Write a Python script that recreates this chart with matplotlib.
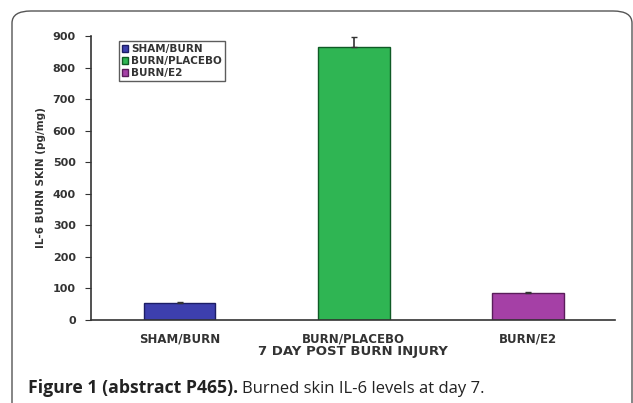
import matplotlib
matplotlib.use("Agg")
import matplotlib.pyplot as plt
from matplotlib.patches import FancyBboxPatch

# data
groups = ["SHAM/BURN", "BURN/PLACEBO", "BURN/E2"]
il6 = [54, 865, 87]
err = [3, 33, 2]
colors = ["#3d3fae", "#2fb553", "#a540a6"]
edges = ["#1c1d66", "#0f5a25", "#5a1d5a"]

fig = plt.figure(figsize=(6.33, 4.03), dpi=100)

# rounded frame around the figure
frame = FancyBboxPatch((12 / 633, -0.2), 620 / 633, 1.2 - 11 / 403,
                       boxstyle="round,pad=0,rounding_size=0.03",
                       transform=fig.transFigure, fill=False,
                       edgecolor="#555555", linewidth=1.0, clip_on=False)
fig.patches.append(frame)

ax = fig.add_axes([91 / 633, 1 - 320 / 403, (615 - 91) / 633, (320 - 36) / 403])

bold = dict(family="DejaVu Sans", weight="bold")

for i, g in enumerate(groups):
    ax.bar(i, il6[i], width=0.41, color=colors[i], edgecolor=edges[i],
           linewidth=1.0, label=g, yerr=[[0], [err[i]]],
           error_kw=dict(ecolor="#333333", elinewidth=1.2, capsize=2, capthick=1))

ax.set_xlim(-0.51, 2.5)
ax.set_ylim(0, 900)
ax.set_yticks(range(0, 901, 100))
ax.set_xticks(range(len(groups)))
ax.set_xticklabels(groups, fontsize=8.5, **bold)
for lab in ax.get_yticklabels():
    lab.set_fontsize(8)
    lab.set_fontfamily("DejaVu Sans")
    lab.set_fontweight("bold")
ax.tick_params(axis="x", length=0, pad=9, colors="#333333")
ax.tick_params(axis="y", length=4, direction="out", pad=7, colors="#333333")
for s in ("top", "right"):
    ax.spines[s].set_visible(False)
ax.spines["left"].set_color("#333333")
ax.spines["bottom"].set_color("#333333")
ax.spines["left"].set_linewidth(1.2)
ax.spines["bottom"].set_linewidth(1.2)

ax.set_ylabel("IL-6 BURN SKIN (pg/mg)", fontsize=7.5, color="#333333", labelpad=5, **bold)
ax.set_xlabel("7 DAY POST BURN INJURY", fontsize=9.5, color="#333333", labelpad=0, **bold)

leg = ax.legend(loc="upper left", bbox_to_anchor=(119 / 633, 1 - 41 / 403),
                bbox_transform=fig.transFigure, frameon=True, fancybox=False,
                prop=dict(family="DejaVu Sans", weight="bold", size=7.5),
                handlelength=0.6, handleheight=0.6, handletextpad=0.3,
                labelspacing=0.2, borderpad=0.3, borderaxespad=0)
leg.get_frame().set_edgecolor("#333333")
leg.get_frame().set_linewidth(1.0)
for t in leg.get_texts():
    t.set_color("#333333")

# caption: bold lead-in fitted to the width seen in the original (~209 px)
cap1 = fig.text(28 / 633, 1 - 393 / 403, "Figure 1 (abstract P465).",
                fontsize=12, family="Open Sans", weight="bold", color="#222222")
fig.canvas.draw()
w = cap1.get_window_extent().width
cap1.set_fontsize(12 * 209 / w)
fig.canvas.draw()
bb = cap1.get_window_extent()
fig.text((bb.x1 + 4) / 633, 1 - 393 / 403, "Burned skin IL-6 levels at day 7.",
         fontsize=12, family="Open Sans", color="#222222")

fig.savefig("out.png", dpi=100)
